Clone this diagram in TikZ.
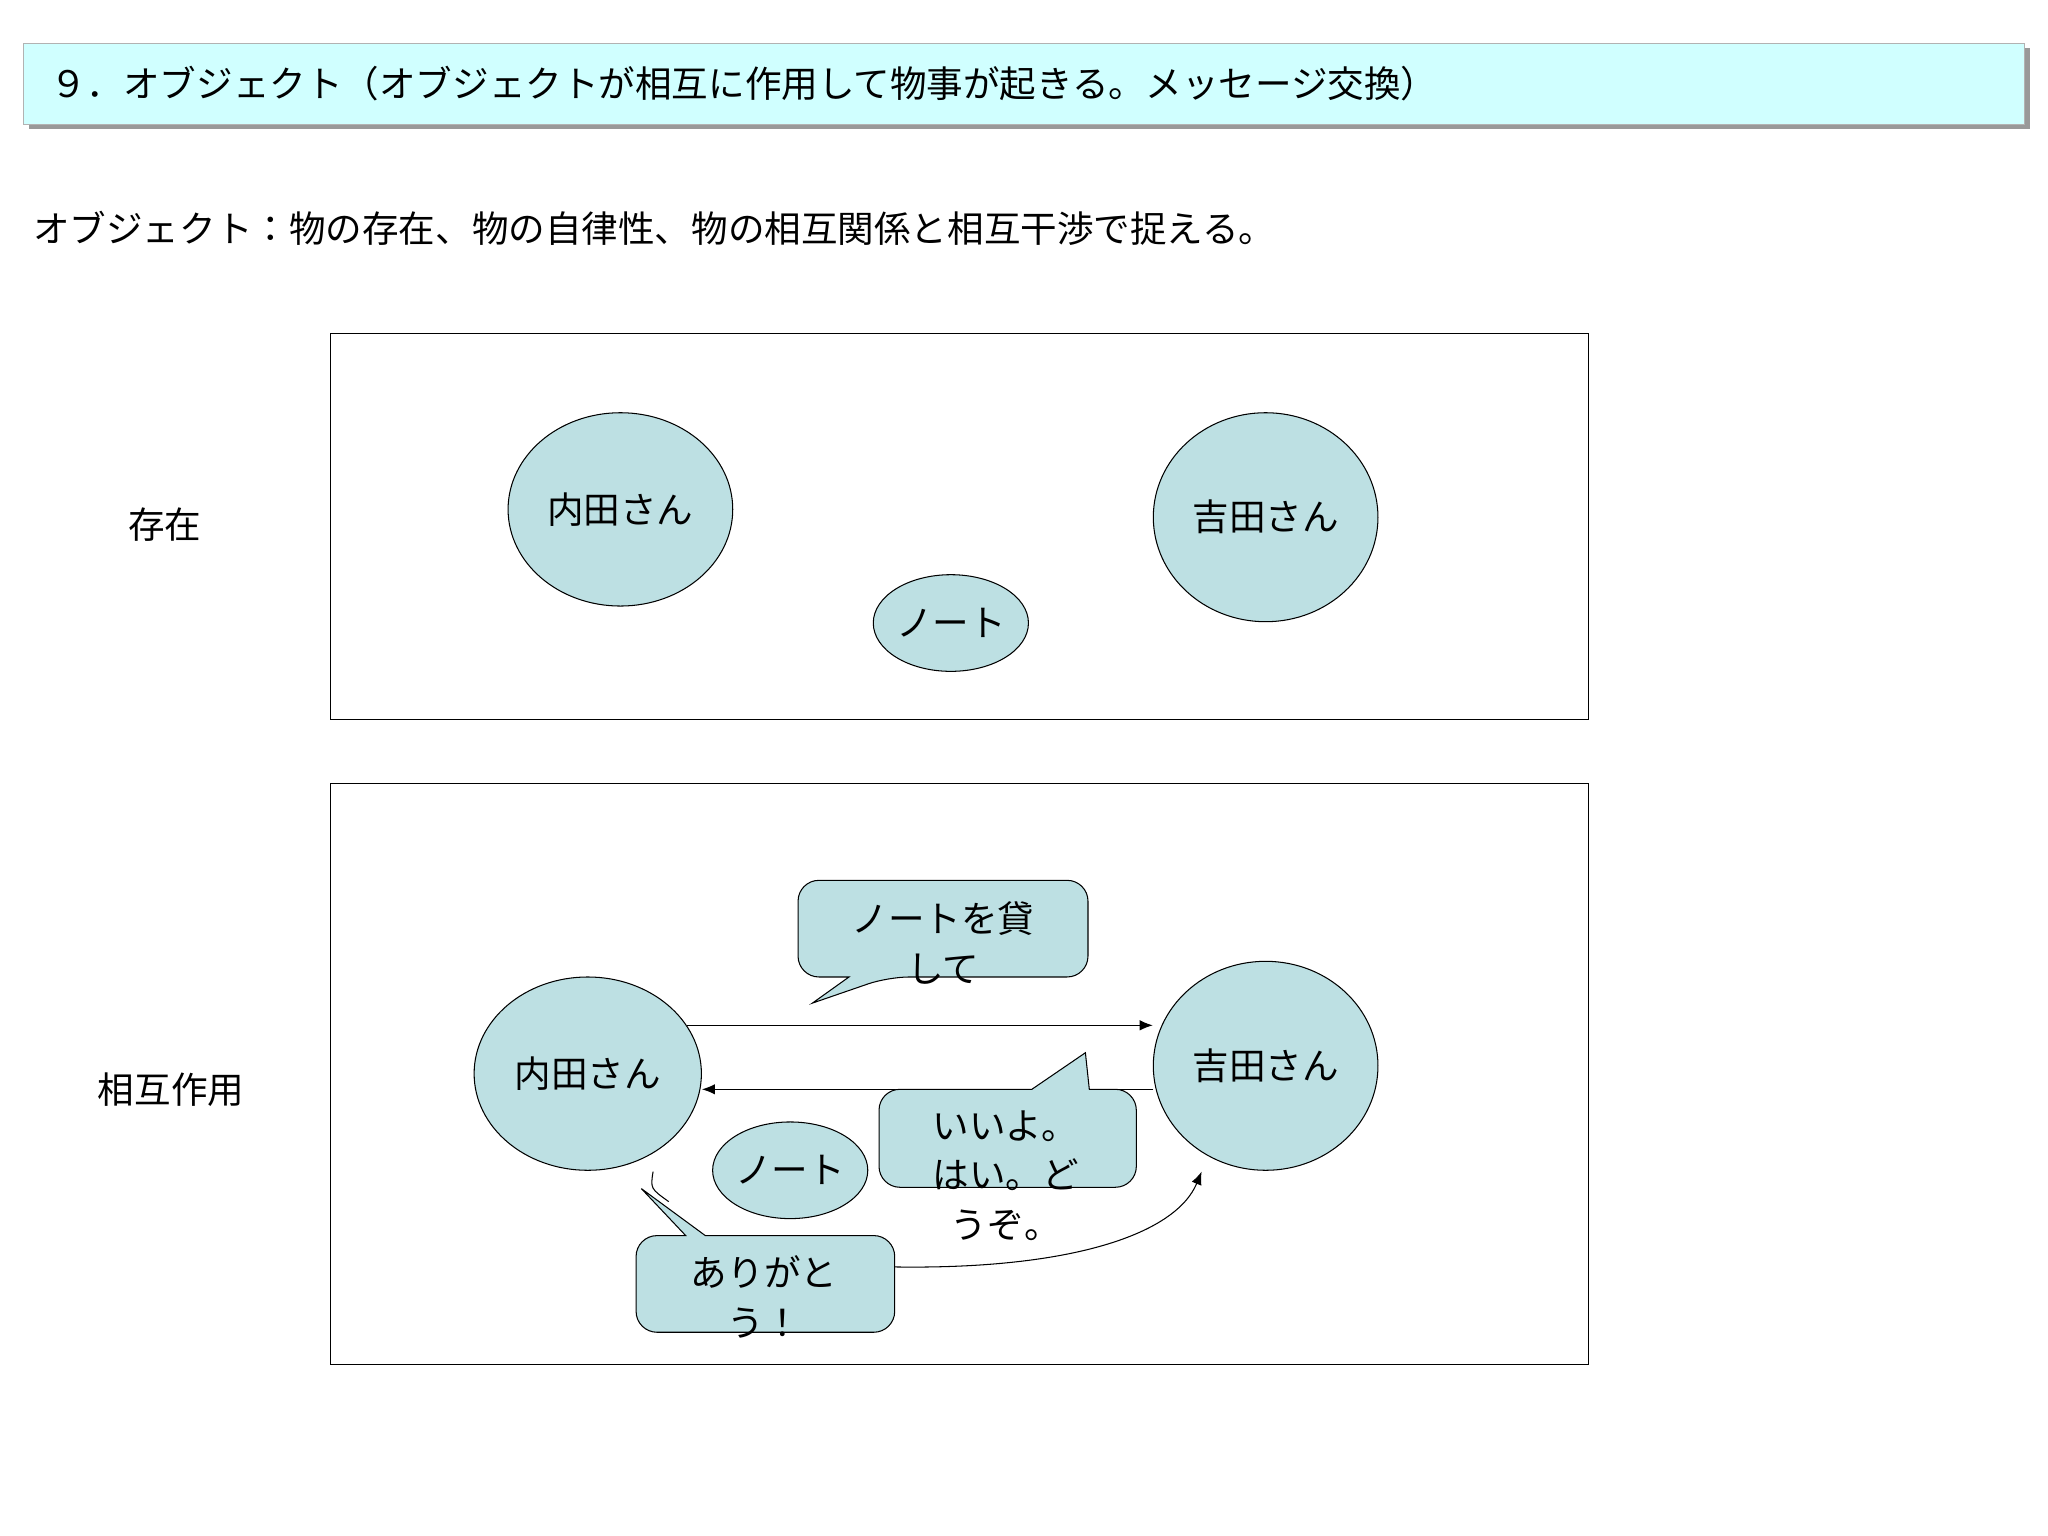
\documentclass[tikz,border=0pt]{standalone}
\usepackage{fontspec}
\setmainfont{Noto Sans CJK JP}
\usetikzlibrary{arrows.meta,shapes.geometric}
\definecolor{ball}{RGB}{189,224,227}
\definecolor{banner}{RGB}{208,255,255}
\tikzset{
  obj/.style={ellipse,draw=black,fill=ball,inner sep=0pt,font=\fontsize{14}{16}\selectfont},
  txt/.style={font=\fontsize{14}{19}\selectfont,inner sep=0pt},
  callout/.style={draw=black,fill=ball},
  arr/.style={-{Latex[length=5pt,width=4pt]}}
}
\begin{document}
\begin{tikzpicture}[x=0.5pt,y=-0.5pt]
\useasboundingbox (0,0) rectangle (1568,1176);
% banner
\fill[gray!80] (22,37) rectangle (1554,99);
\draw[gray!60,fill=banner] (18,33) rectangle (1550,95);
\node[txt,anchor=west] (title) at (38,64) {９．オブジェクト（オブジェクトが相互に作用して物事が起きる。メッセージ交換）};
\node[txt,anchor=west] (sub) at (25,175) {オブジェクト：物の存在、物の自律性、物の相互関係と相互干渉で捉える。};
% box 1
\draw (253,255) rectangle (1216,551);
\node[txt] (l1) at (126,402) {存在};
\node[obj,minimum width=86pt,minimum height=74pt] (u1) at (475,390) {内田さん};
\node[obj,minimum width=86pt,minimum height=80pt] (y1) at (969,396) {吉田さん};
\node[obj,minimum width=43pt,minimum height=37pt] (n1) at (728,477) {ノート};
% box 2
\draw (253,600) rectangle (1216,1045);
\node[txt] (l2) at (131,834) {相互作用};
\node[obj,minimum width=87pt,minimum height=74pt] (u2) at (450,822) {内田さん};
\node[obj,minimum width=86pt,minimum height=80pt] (y2) at (969,816) {吉田さん};
\node[obj,minimum width=43pt,minimum height=37pt] (n2) at (605,896) {ノート};
\draw[arr] (u2.26) -- (u2.26 -| y2.west);
\coordinate (rs) at (883,834);
\draw[arr] (rs) -- (rs -| u2.east);
% callout 1
\draw[callout] (700,674) [rounded corners=8pt] -- (833,674) -- (833,748) -- (680,748) [sharp corners] -- (622,768) -- (650,748) [rounded corners=8pt] -- (611,748) -- (611,674) -- (700,674);
\node[txt,align=center] (c1) at (722,722) {ノートを貸\\して};
% callout 2
\draw[callout] (730,834) -- (790,834) -- (831,806) -- (834,834) [rounded corners=8pt] -- (870,834) -- (870,909) -- (673,909) -- (673,834) [sharp corners] -- (730,834);
\node[txt,align=center] (c2) at (770,900) {いいよ。\\はい。ど\\うぞ。};
% callout 3
\draw[callout] (540,946) -- (560,946) [rounded corners=8pt] -- (685,946) -- (685,1020) -- (487,1020) -- (487,946) [sharp corners] -- (525,946) -- (491,910) -- (540,946);
\node[txt,align=center] (c3) at (585,993) {ありがと\\う！};
% curves
\coordinate (cs) at (685,970);
\coordinate (ce) at (920,897);
\draw[arr] (cs) .. controls (820,972) and (900,945) .. (ce);
\coordinate (ks) at (500,897);
\coordinate (ke) at (512,920);
\draw (ks) .. controls (498,910) .. (ke);
\end{tikzpicture}
\end{document}
